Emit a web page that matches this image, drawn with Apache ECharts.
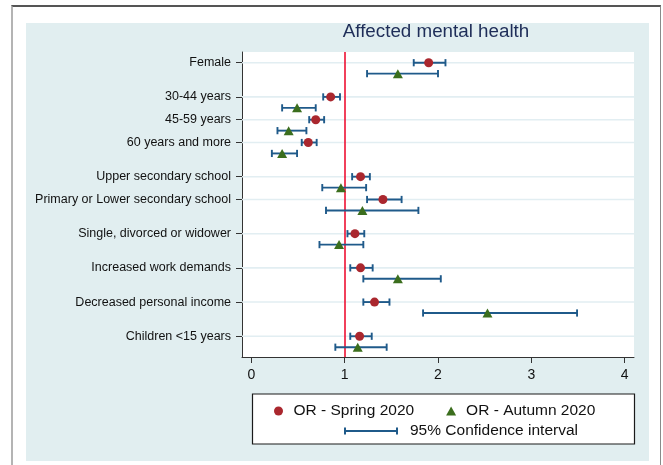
<!DOCTYPE html>
<html>
<head>
<meta charset="utf-8">
<title>Affected mental health</title>
<script src="https://cdn.jsdelivr.net/npm/echarts@6/dist/echarts.min.js"></script>
<style>
  html, body { margin: 0; padding: 0; background: #ffffff; }
  #frame {
    position: absolute; left: 11px; top: 5px; width: 650px; height: 470px;
    border-top: 2px solid #555; border-left: 2.5px solid #b4b4b4; border-right: 1.5px solid #8a8a8a;
    box-sizing: border-box;
  }
  #panel {
    position: absolute; left: 26px; top: 23px; width: 623px; height: 438px;
    background: #e1eef0;
  }
  #chart { position: absolute; left: 0; top: 0; width: 663px; height: 465px; }
</style>
</head>
<body>
<div id="frame"></div>
<div id="panel"></div>
<div id="chart"></div>
<script>
// Odds ratios with 95% confidence intervals, two survey waves
const categories = [
  'Female',
  '30-44 years',
  '45-59 years',
  '60 years and more',
  'Upper secondary school',
  'Primary or Lower secondary school',
  'Single, divorced or widower',
  'Increased work demands',
  'Decreased personal income',
  'Children <15 years'
];
// which block of covariates each row belongs to (blocks are separated by a half-row gap)
const categoryGroup = [0, 1, 1, 1, 2, 2, 3, 4, 5, 6];

const springOR   = [1.90, 0.85, 0.69, 0.61, 1.17, 1.41, 1.11, 1.17, 1.32, 1.16];
const springLow  = [1.74, 0.77, 0.62, 0.54, 1.08, 1.24, 1.03, 1.06, 1.20, 1.06];
const springHigh = [2.08, 0.95, 0.78, 0.70, 1.27, 1.61, 1.21, 1.30, 1.48, 1.29];

const autumnOR   = [1.57, 0.49, 0.40, 0.33, 0.96, 1.19, 0.94, 1.57, 2.53, 1.14];
const autumnLow  = [1.24, 0.33, 0.28, 0.22, 0.76, 0.80, 0.73, 1.20, 1.84, 0.90];
const autumnHigh = [2.00, 0.69, 0.59, 0.49, 1.23, 1.79, 1.20, 2.03, 3.49, 1.45];

const xTicks = [0, 1, 2, 3, 4];
const referenceOR = 1;

const SPRING = 'OR - Spring 2020';
const AUTUMN = 'OR - Autumn 2020';
const CI = '95% Confidence interval';

const AUTUMN_SHIFT = 0.48;
const rowPos = categories.map((c, i) => i + 0.5 * categoryGroup[i]);

const springPts = categories.map((c, i) => [springOR[i], rowPos[i]]);
const autumnPts = categories.map((c, i) => [autumnOR[i], rowPos[i] + AUTUMN_SHIFT]);
const ciData = categories.map((c, i) => [springLow[i], springHigh[i], rowPos[i]])
  .concat(categories.map((c, i) => [autumnLow[i], autumnHigh[i], rowPos[i] + AUTUMN_SHIFT]));

const ciColor = '#1f5a8a';
const font = 'Liberation Sans, Arial, sans-serif';

function labelFor(v) {
  for (let i = 0; i < rowPos.length; i++) {
    if (Math.abs(rowPos[i] - v) < 1e-6) return categories[i];
  }
  return '';
}

const chart = echarts.init(document.getElementById('chart'), null, { renderer: 'canvas' });

chart.setOption({
  animation: false,
  backgroundColor: 'transparent',
  textStyle: { fontFamily: font },
  title: {
    text: 'Affected mental health',
    left: 431, top: 17, textAlign: 'center',
    textStyle: { fontFamily: font, fontSize: 18.8, fontWeight: 'normal', color: '#1e2d58' }
  },
  grid: {
    left: 242, right: 29, top: 52, bottom: 108,
    show: true, backgroundColor: '#ffffff', borderWidth: 0
  },
  xAxis: {
    type: 'value', min: -0.1, max: 4.1,
    axisLine: { show: true, onZero: false, lineStyle: { color: '#333', width: 1 } },
    axisTick: { show: true, length: 6, customValues: xTicks, lineStyle: { color: '#333' } },
    axisLabel: { customValues: xTicks, fontSize: 14, color: '#111', margin: 11, fontFamily: font },
    splitLine: { show: false }
  },
  yAxis: {
    type: 'value', inverse: true, min: -0.47, max: 12.91,
    axisLine: { show: true, onZero: false, lineStyle: { color: '#333', width: 1 } },
    axisTick: { show: true, length: 6, customValues: rowPos, lineStyle: { color: '#333' } },
    axisLabel: { customValues: rowPos, formatter: labelFor, fontSize: 12.5, color: '#111', margin: 11, fontFamily: font },
    splitLine: { show: false }
  },
  legend: [
    {
      data: [SPRING, AUTUMN],
      left: 269, top: 397,
      itemWidth: 10, itemHeight: 9, itemGap: 32,
      symbolKeepAspect: true,
      textStyle: { fontSize: 15.5, color: '#111', fontFamily: font, lineHeight: 18, padding: [0, 0, 0, 5] }
    },
    {
      data: [{ name: CI, icon: 'path://M0,0L2,0L2,7L0,7Z M2,2.6L52,2.6L52,4.4L2,4.4Z M52,0L54,0L54,7L52,7Z' }],
      left: 339, top: 417,
      itemWidth: 54, itemHeight: 7,
      textStyle: { fontSize: 15.5, color: '#111', fontFamily: font, lineHeight: 18, padding: [0, 0, 0, 7] }
    }
  ],
  graphic: [
    {
      type: 'rect', z: 0,
      shape: { x: 252.5, y: 394, width: 382, height: 50 },
      style: { fill: '#ffffff', stroke: '#1a1a1a', lineWidth: 1.2 }
    }
  ],
  series: [
    {
      // light horizontal guide at each covariate row, plus the OR = 1 reference line
      type: 'custom',
      name: 'rows',
      silent: true,
      z: 1,
      data: rowPos.map(p => [p]),
      renderItem: function (params, api) {
        const cs = params.coordSys;
        const y = api.coord([0, api.value(0)])[1];
        return {
          type: 'line',
          shape: { x1: cs.x, y1: y, x2: cs.x + cs.width, y2: y },
          style: { stroke: '#e2eef2', lineWidth: 1.6 }
        };
      },
      markLine: {
        silent: true, symbol: 'none', z: 2,
        label: { show: false },
        lineStyle: { color: '#ee1133', width: 1.6, type: 'solid' },
        data: [{ xAxis: referenceOR }]
      }
    },
    {
      type: 'custom',
      name: CI,
      z: 3,
      itemStyle: { color: ciColor },
      data: ciData,
      renderItem: function (params, api) {
        const y = api.value(2);
        const a = api.coord([api.value(0), y]);
        const b = api.coord([api.value(1), y]);
        const cap = 3.6;
        const style = { stroke: ciColor, lineWidth: 1.9, fill: null };
        return {
          type: 'group',
          children: [
            { type: 'line', shape: { x1: a[0], y1: a[1], x2: b[0], y2: b[1] }, style: style },
            { type: 'line', shape: { x1: a[0], y1: a[1] - cap, x2: a[0], y2: a[1] + cap }, style: style },
            { type: 'line', shape: { x1: b[0], y1: b[1] - cap, x2: b[0], y2: b[1] + cap }, style: style }
          ]
        };
      }
    },
    {
      type: 'scatter',
      name: SPRING,
      z: 4,
      symbol: 'circle',
      symbolSize: 9,
      itemStyle: { color: '#aa272e', opacity: 1 },
      data: springPts
    },
    {
      type: 'scatter',
      name: AUTUMN,
      z: 4,
      symbol: 'triangle',
      symbolSize: [10, 9],
      itemStyle: { color: '#3b6e1d', opacity: 1 },
      data: autumnPts
    }
  ]
});
</script>
</body>
</html>
